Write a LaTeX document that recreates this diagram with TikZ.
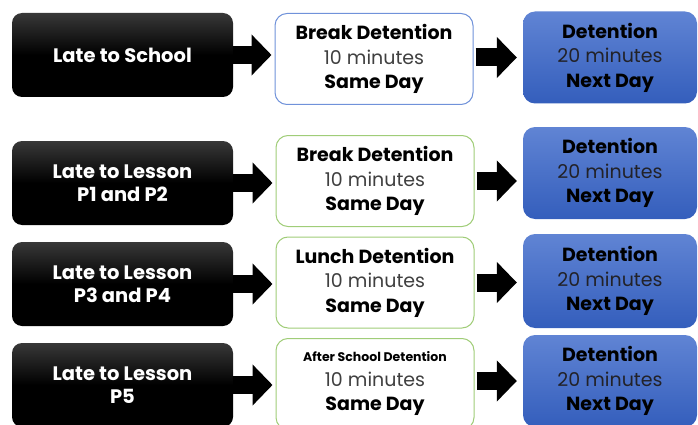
\documentclass[tikz,border=0pt]{standalone}
\usepackage{fontspec}
\setmainfont{Poppins}
\usetikzlibrary{arrows.meta}
\definecolor{greenline}{RGB}{160,205,120}
\definecolor{blueline}{RGB}{112,146,218}
\definecolor{bluetop}{RGB}{96,132,212}
\definecolor{bluebot}{RGB}{52,94,188}
\definecolor{textgray}{RGB}{64,64,64}
\definecolor{darkgray}{RGB}{34,34,40}
\begin{document}
\begin{tikzpicture}[x=1pt,y=-1pt,
  late/.style={rounded corners=10pt, minimum width=221pt, minimum height=84pt, inner sep=0pt,
    top color=black!78, bottom color=black, middle color=black, text=white, align=center,
    font=\fontsize{19.5}{23}\selectfont\bfseries},
  same/.style={draw=greenline, line width=1pt, rounded corners=12pt, fill=white, inner sep=0pt,
    minimum width=198pt, minimum height=91pt, align=center, font=\fontsize{19}{24.5}\selectfont},
  next/.style={rounded corners=12pt, minimum width=174pt, minimum height=92pt, inner sep=0pt,
    top color=bluetop, bottom color=bluebot, align=center, font=\fontsize{19}{24.5}\selectfont},
  blockarrow/.style={line width=18pt, -{Triangle[length=20pt,width=40pt]}}]
\useasboundingbox (0,0) rectangle (698,425);
% first row
\draw (122.5, 55) node[late] (late1) {Late to School};
\draw (374, 59) node[same, draw=blueline] (same1) {\textbf{Break Detention}\\{\color{textgray}10 minutes}\\\textbf{Same Day}};
\draw (610, 57.5) node[next] (next1) {\textbf{Detention}\\{\color{darkgray}20 minutes}\\\textbf{Next Day}};
% second row
\draw (122.5, 183) node[late] (late2) {Late to Lesson\\P1 and P2};
\draw (375, 181) node[same] (same2) {\textbf{Break Detention}\\{\color{textgray}10 minutes}\\\textbf{Same Day}};
\draw (610, 173) node[next] (next2) {\textbf{Detention}\\{\color{darkgray}20 minutes}\\\textbf{Next Day}};
% third row
\draw (122.5, 284) node[late] (late3) {Late to Lesson\\P3 and P4};
\draw (375, 282.5) node[same] (same3) {\textbf{Lunch Detention}\\{\color{textgray}10 minutes}\\\textbf{Same Day}};
\draw (610, 281) node[next, minimum height=94pt] (next3) {\textbf{Detention}\\{\color{darkgray}20 minutes}\\\textbf{Next Day}};
% fourth row
\draw (122.5, 385) node[late] (late4) {Late to Lesson\\P5};
\draw (375, 384) node[same] (same4) {{\fontsize{12.5}{14}\selectfont\bfseries After School Detention}\\{\color{textgray}10 minutes}\\\textbf{Same Day}};
\draw (610, 381) node[next] (next4) {\textbf{Detention}\\{\color{darkgray}20 minutes}\\\textbf{Next Day}};
% arrows
\draw[blockarrow, shorten >=3pt] (late1.east) -- (late1.east -| same1.west);
\draw[blockarrow, shorten >=3pt] (late2.east) -- (late2.east -| same2.west);
\draw[blockarrow, shorten >=3pt] (late3.east) -- (late3.east -| same3.west);
\draw[blockarrow, shorten >=3pt] (late4.east) -- (late4.east -| same4.west);
\draw[blockarrow, shorten >=6pt, shorten <=2pt] (next1.west -| same1.east) -- (next1.west);
\draw[blockarrow, shorten >=6pt, shorten <=2pt] (same2.east) -- (same2.east -| next2.west);
\draw[blockarrow, shorten >=6pt, shorten <=2pt] (same3.east) -- (same3.east -| next3.west);
\draw[blockarrow, shorten >=6pt, shorten <=2pt] (next4.west -| same4.east) -- (next4.west);
\end{tikzpicture}
\end{document}
